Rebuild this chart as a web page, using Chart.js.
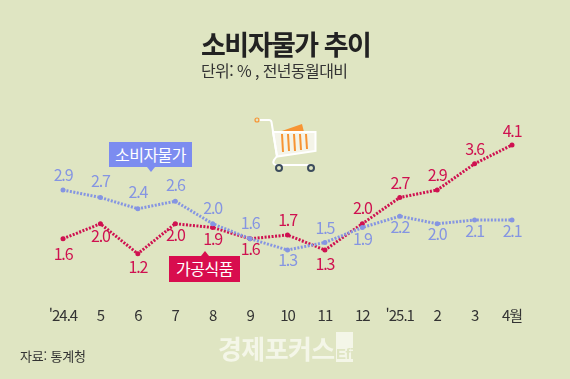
<!DOCTYPE html>
<html lang="ko">
<head>
<meta charset="utf-8">
<title>소비자물가 추이</title>
<script src="https://cdn.jsdelivr.net/npm/chart.js@4"></script>
<style>
  html, body { margin: 0; padding: 0; background: #dfe5c2; }
  #wrap { position: relative; width: 570px; height: 379px; overflow: hidden; font-family: "Noto Sans CJK KR", sans-serif; }
  #wrap canvas { position: absolute; left: 0; top: 0; }
  .txt { position: absolute; white-space: nowrap; line-height: 1; }
  #mainTitle { left: 201px; top: 30px; font-size: 27px; font-weight: 700; letter-spacing: -1.5px; color: #222; }
  #subTitle { left: 201px; top: 62px; font-size: 16px; letter-spacing: -0.6px; color: #333; }
  #source { left: 20px; top: 349px; font-size: 13px; letter-spacing: -0.2px; color: #333; }
  #logo { left: 218px; top: 335px; font-size: 26px; font-weight: 700; letter-spacing: -0.6px; color: #f4f6e8; }
  #logoMark { left: 336px; top: 332px; width: 17px; height: 30px; background: #f4f6e8; color: #dfe5c2; font-family: "Liberation Sans", sans-serif; font-size: 15px; font-weight: 700; letter-spacing: -0.5px; text-align: center; box-sizing: border-box; padding-top: 14px; }
  .tag { position: absolute; color: #fff; text-align: center; font-size: 16px; letter-spacing: -0.5px; }
  .tag:after { content: ""; position: absolute; left: 50%; margin-left: -4px; border-left: 4px solid transparent; border-right: 4px solid transparent; }
  #tagCpi { left: 109px; top: 142px; width: 83px; height: 25px; line-height: 24px; background: #7c8cf0; }
  #tagCpi:after { top: 25px; border-top: 5px solid #7c8cf0; }
  #tagFood { left: 169px; top: 256px; width: 71px; height: 26px; line-height: 25px; background: #d80d4e; }
  #tagFood:after { top: -5px; border-bottom: 5px solid #d80d4e; }
  #cart { position: absolute; left: 250px; top: 110px; }
</style>
</head>
<body>
<div id="wrap">
  <canvas id="cpiChart" width="570" height="379"></canvas>
  <div class="txt" id="mainTitle">소비자물가 추이</div>
  <div class="txt" id="subTitle">단위: % , 전년동월대비</div>
  <div class="tag" id="tagCpi">소비자물가</div>
  <div class="tag" id="tagFood">가공식품</div>
  <div class="txt" id="source">자료: 통계청</div>
  <div class="txt" id="logo">경제포커스</div>
  <div class="txt" id="logoMark">Efi</div>
  <svg id="cart" width="72" height="66" viewBox="250 110 72 66">
    <path d="M279 132 L302 124 L304 132 Z" fill="#f79433"/>
    <path d="M273 132 H315.500 V151 L277 156.500 Z" fill="#f4f4e8" stroke="#fff" stroke-width="2"/>
    <g stroke="#f79433" stroke-width="2">
      <path d="M282 134 L283 152 M288 134 L289 151 M294 134 L295 151 M300 134 L301 150 M306 134 L307 149"/>
    </g>
    <path d="M259 120 H269 Q271 120 271.500 122 L277 156 L274 160 Q272 164 276 165 H313" fill="none" stroke="#fff" stroke-width="2"/>
    <circle cx="257" cy="120" r="2" fill="none" stroke="#f79433" stroke-width="1.200"/>
    <circle cx="279" cy="168" r="3" fill="#dfe5c2" stroke="#3c4c5c" stroke-width="2"/>
    <circle cx="311" cy="168" r="3" fill="#dfe5c2" stroke="#3c4c5c" stroke-width="2"/>
  </svg>
</div>
<script>
const months = ["'24.4", '5', '6', '7', '8', '9', '10', '11', '12', "'25.1", '2', '3', '4월'];
const cpiValues = [2.9, 2.7, 2.4, 2.6, 2.0, 1.6, 1.3, 1.5, 1.9, 2.2, 2.0, 2.1, 2.1];
const foodValues = [1.6, 2.0, 1.2, 2.0, 1.9, 1.6, 1.7, 1.3, 2.0, 2.7, 2.9, 3.6, 4.1];

const cpiColor = '#8595e2';
const foodColor = '#cf1150';

// how far each value label sits from its point, in px
const cpiLabelDy = [-15, -17, -17, -16, -16, -16, 10, -15, 11, 11, 10, 11, 11];
const foodLabelDy = [15, 12, 13, 11, 11, 10, -15, 14, -16, -15, -15, -15, -14];

const tightText = {
  id: 'tightText',
  beforeDraw(chart) {
    chart.ctx.letterSpacing = '-1px';
  }
};

const valueLabels = {
  id: 'valueLabels',
  afterDatasetsDraw(chart) {
    const ctx = chart.ctx;
    const offsets = [cpiLabelDy, foodLabelDy];
    ctx.save();
    ctx.font = '16px "Noto Sans CJK KR"';
    ctx.letterSpacing = '-1.2px';
    ctx.textAlign = 'center';
    ctx.textBaseline = 'middle';
    chart.data.datasets.forEach(function(ds, i) {
      ctx.fillStyle = ds.borderColor;
      chart.getDatasetMeta(i).data.forEach(function(pt, j) {
        ctx.fillText(ds.data[j].toFixed(1), pt.x, pt.y + offsets[i][j]);
      });
    });
    ctx.restore();
  }
};

const ctx = document.getElementById('cpiChart').getContext('2d');
const cpiChart = new Chart(ctx, {
  type: 'line',
  data: {
    labels: months,
    datasets: [{
      label: '소비자물가',
      data: cpiValues,
      borderColor: cpiColor,
      backgroundColor: cpiColor,
      borderWidth: 3,
      borderDash: [2, 1.5],
      pointRadius: 2.5,
      pointBorderWidth: 0,
      tension: 0
    }, {
      label: '가공식품',
      data: foodValues,
      borderColor: foodColor,
      backgroundColor: foodColor,
      borderWidth: 3,
      borderDash: [2, 1.5],
      pointRadius: 2.5,
      pointBorderWidth: 0,
      tension: 0
    }]
  },
  options: {
    responsive: false,
    animation: false,
    layout: { padding: { left: 63, right: 58, top: 111.25, bottom: 0 } },
    plugins: { legend: { display: false }, tooltip: { enabled: false } },
    scales: {
      x: {
        grid: { display: false },
        border: { display: false },
        afterFit(scale) { scale.height = 80.25; },
        ticks: {
          autoSkip: false,
          maxRotation: 0,
          padding: 0,
          color: '#333',
          font: { family: '"Noto Sans CJK KR"', size: 15 }
        }
      },
      y: { display: false, min: 0, max: 5 }
    }
  },
  plugins: [tightText, valueLabels]
});
</script>
</body>
</html>
